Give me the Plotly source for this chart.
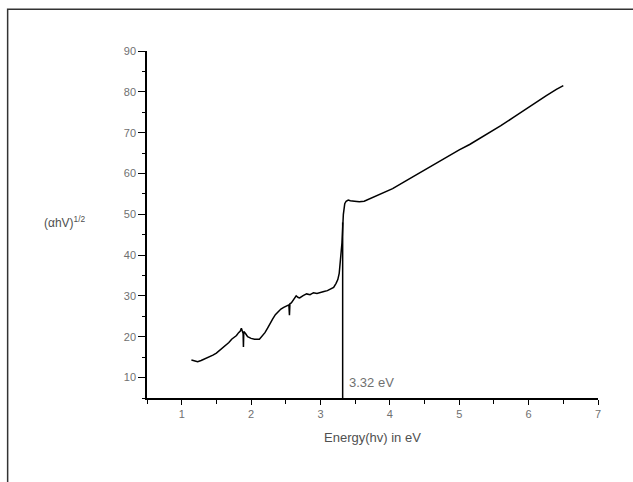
import plotly.graph_objects as go

# ---- data ----
energy = [1.14, 1.18, 1.23, 1.28, 1.33, 1.40, 1.45, 1.50, 1.55, 1.60, 1.64, 1.68, 1.72, 1.76, 1.79,
          1.82, 1.845, 1.86, 1.875, 1.885, 1.89, 1.895, 1.92, 1.95, 2.00, 2.05, 2.12, 2.16, 2.20, 2.24,
          2.28, 2.31, 2.35, 2.385, 2.43, 2.47, 2.51, 2.545, 2.553, 2.56, 2.58, 2.62, 2.65, 2.68, 2.70,
          2.75, 2.80, 2.85, 2.90, 2.95, 3.00, 3.05, 3.10, 3.15, 3.19, 3.225, 3.25, 3.27, 3.29, 3.30,
          3.31, 3.32, 3.33, 3.35, 3.37, 3.40, 3.43, 3.49, 3.56, 3.63, 3.70, 3.80, 3.90, 4.04, 4.20,
          4.33, 4.50, 4.65, 4.81, 5.00, 5.15, 5.29, 5.45, 5.60, 5.77, 5.90, 6.05, 6.25, 6.40, 6.50]
alpha_hv = [14.3, 14.2, 13.9, 14.2, 14.6, 15.0, 15.5, 16.0, 16.7, 17.4, 18.0, 18.6, 19.4, 20.0, 20.3,
            21.0, 21.4, 22.1, 21.5, 20.8, 17.5, 21.3, 20.8, 20.0, 19.6, 19.4, 19.4, 20.1, 21.0, 22.2,
            23.6, 24.3, 25.4, 26.1, 26.8, 27.2, 27.5, 27.8, 25.3, 28.1, 28.3, 29.2, 30.0, 29.6, 29.5,
            30.1, 30.5, 30.3, 30.8, 30.6, 30.9, 31.1, 31.3, 31.7, 32.1, 33.1, 34.0, 35.5, 38.8, 41.0,
            43.0, 46.5, 50.0, 52.6, 53.2, 53.5, 53.3, 53.2, 53.1, 53.2, 53.7, 54.4, 55.3, 56.3, 57.9,
            59.2, 60.9, 62.4, 64.0, 65.8, 67.1, 68.5, 70.0, 71.7, 73.6, 75.1, 76.8, 79.0, 80.6, 81.5]

gap_x = [3.32, 3.32]
gap_y = [5, 48]
gap_label = "3.32 eV"

x_ticks = [1, 2, 3, 4, 5, 6, 7]
y_ticks = [10, 20, 30, 40, 50, 60, 70, 80, 90]

fig = go.Figure()
fig.add_trace(go.Scatter(x=energy, y=alpha_hv, mode="lines",
                         line=dict(color="black", width=1.5), showlegend=False))
fig.add_trace(go.Scatter(x=gap_x, y=gap_y, mode="lines",
                         line=dict(color="black", width=1.5), showlegend=False))

tickfont = dict(family="Liberation Sans, Arial, sans-serif", size=11, color="#707070")

fig.update_xaxes(range=[0.5, 7], tickvals=x_ticks, ticks="outside", ticklen=5, tickwidth=1,
                 tickcolor="black", showline=True, linecolor="black", linewidth=1.5,
                 showgrid=False, zeroline=False, tickfont=tickfont,
                 minor=dict(dtick=0.5, tick0=0.5, ticks="outside", ticklen=4, tickcolor="black"))
fig.update_yaxes(range=[5, 90], tickvals=y_ticks, ticks="outside", ticklen=7, tickwidth=1,
                 tickcolor="black", showline=True, linecolor="black", linewidth=1.5,
                 showgrid=False, zeroline=False, tickfont=tickfont,
                 minor=dict(dtick=5, tick0=5, ticks="outside", ticklen=3, tickcolor="black"))

fig.add_annotation(x=gap_x[0], y=8.7, xref="x", yref="y", text=gap_label, showarrow=False,
                   xanchor="left", yanchor="middle", xshift=4,
                   font=dict(family="Liberation Sans, Arial, sans-serif", size=13, color="#707070"))
fig.add_annotation(x=0.5, y=-0.114, xref="paper", yref="paper", text="Energy(hv) in eV",
                   showarrow=False, xanchor="center", yanchor="middle",
                   font=dict(family="Liberation Sans, Arial, sans-serif", size=13, color="#505050"))
fig.add_annotation(x=-0.2335, y=0.507, xref="paper", yref="paper",
                   text="(αhV)<sup>1/2</sup>", showarrow=False, xanchor="left", yanchor="middle",
                   font=dict(family="Liberation Sans, Arial, sans-serif", size=12, color="#505050"))

fig.add_shape(type="rect", xref="paper", yref="paper", x0=-0.309, y0=-0.5, x1=1.3, y1=1.12,
              line=dict(color="#333333", width=1.5), fillcolor="rgba(0,0,0,0)", layer="below")

fig.update_layout(width=633, height=482, autosize=False,
                  margin=dict(l=147, r=35, t=51, b=84),
                  paper_bgcolor="white", plot_bgcolor="white")

fig.write_html("out.html", config={"displayModeBar": False},
               post_script="document.body.style.margin='0';document.body.style.overflow='hidden';")
